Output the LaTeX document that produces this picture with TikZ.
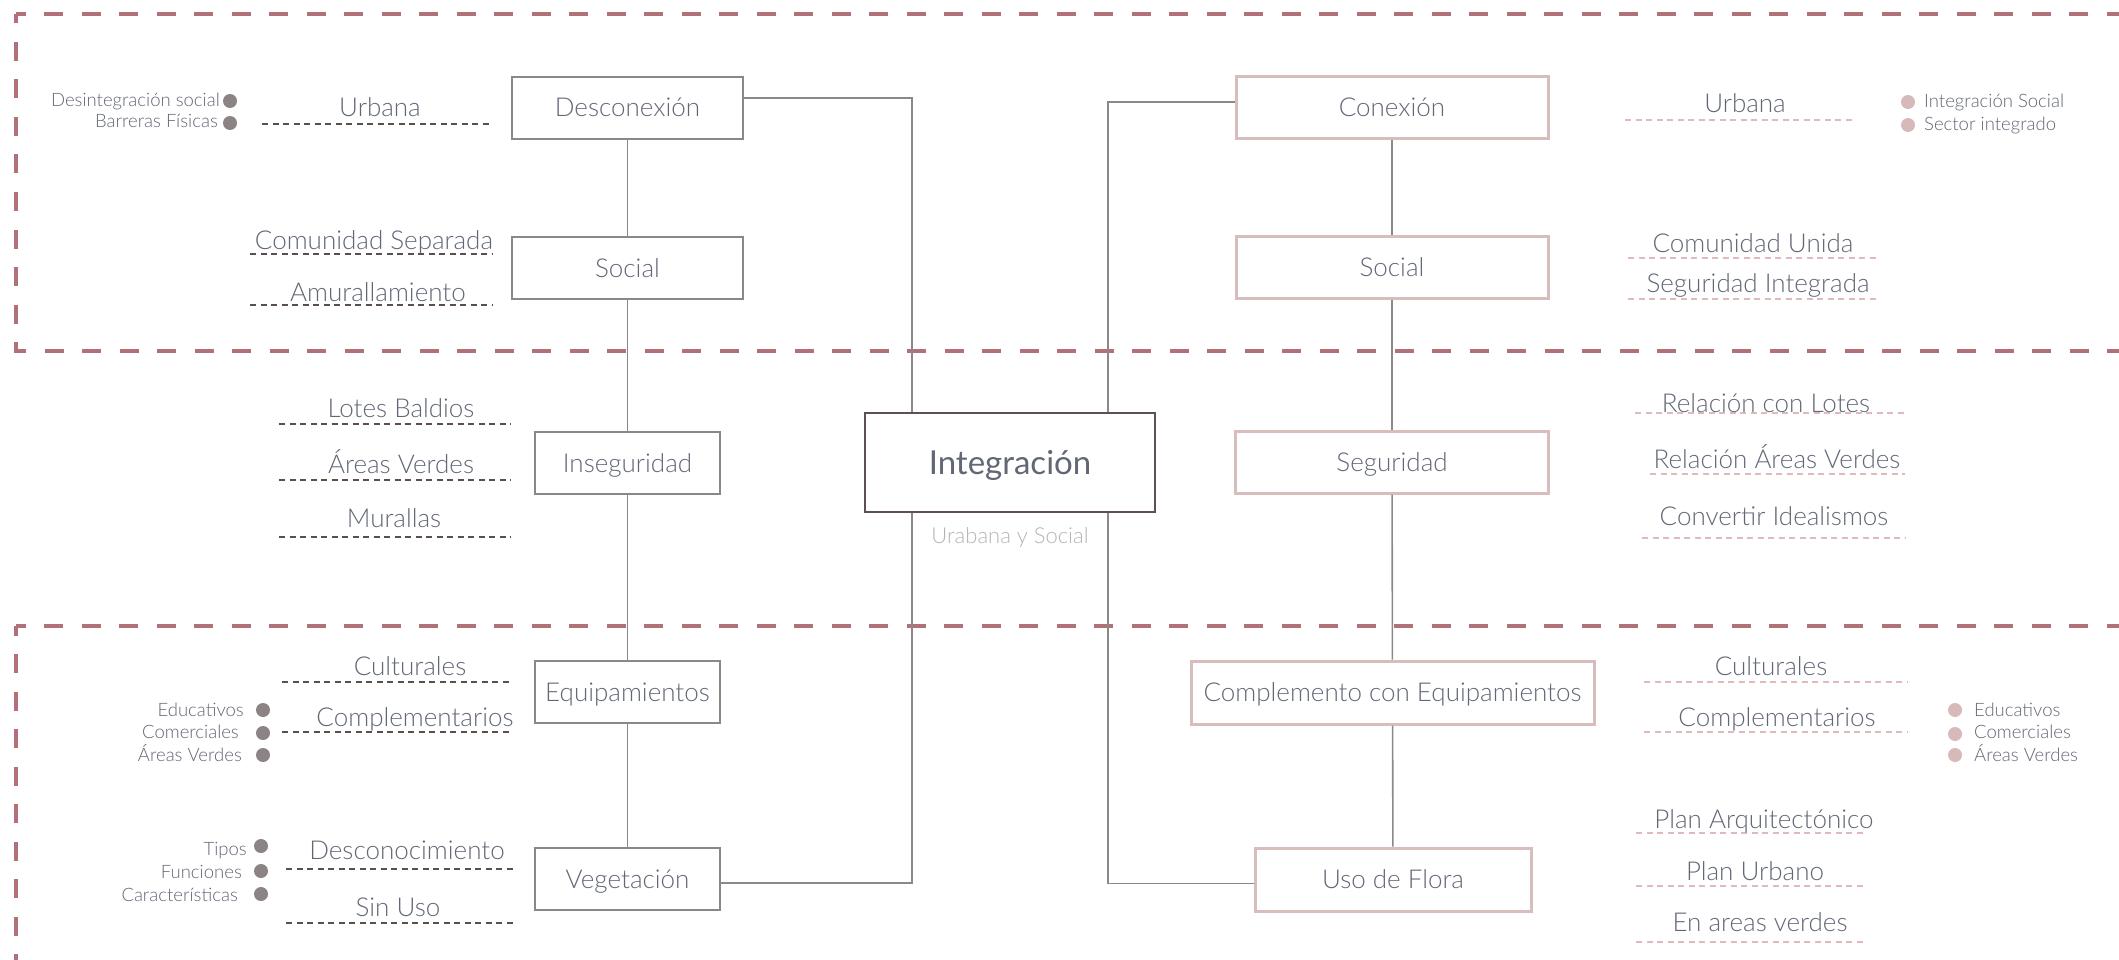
\documentclass[tikz,border=0pt]{standalone}
\usepackage{fontspec}
\setmainfont{Lato Light}
\newfontfamily\latoreg{Lato}
\definecolor{bordc}{RGB}{178,112,120}
\definecolor{txt}{RGB}{98,103,118}
\definecolor{lboxc}{RGB}{140,135,135}
\definecolor{rboxc}{RGB}{216,189,189}
\definecolor{conn}{RGB}{140,136,136}
\definecolor{ldash}{RGB}{90,78,78}
\definecolor{rdash}{RGB}{222,186,188}
\definecolor{ldot}{RGB}{140,132,132}
\definecolor{rdot}{RGB}{215,185,185}
\definecolor{intc}{RGB}{95,80,80}
\definecolor{subc}{RGB}{180,180,186}
\begin{document}
\begin{tikzpicture}[x=1pt,y=-1pt,
  bdash/.style={draw=bordc,line width=4.5pt,dash pattern=on 19pt off 18.5pt,dash phase=9.5pt},
  boxbase/.style={inner sep=0pt,fill=white,text=txt,font=\fontsize{26}{30}\selectfont,text height=18pt,text depth=0pt},
  lbox/.style={boxbase,draw=lboxc,line width=2.2pt},
  rbox/.style={boxbase,draw=rboxc,line width=3pt},
  lab/.style={anchor=base,inner sep=0pt,text=txt,font=\fontsize{26}{30}\selectfont},
  slabL/.style={anchor=base east,inner sep=0pt,text=txt,font=\fontsize{18.5}{22}\selectfont},
  slabR/.style={anchor=base west,inner sep=0pt,text=txt,font=\fontsize{18.5}{22}\selectfont},
  lline/.style={draw=ldash,line width=2.5pt,dash pattern=on 6pt off 4.5pt},
  rline/.style={draw=rdash,line width=2.5pt,dash pattern=on 6pt off 4.5pt},
  cline/.style={draw=conn,line width=1.6pt}
]
\useasboundingbox (0,0) rectangle (2119,960);
\fill[white] (0,0) rectangle (2119,960);

% band borders
\draw[bdash] (16,14) -- (2130,14);
\draw[bdash] (16,14) -- (16,351) -- (2130,351);
\draw[bdash] (16,626) -- (2130,626);
\draw[bdash] (16,626) -- (16,975);

% left column boxes
\node[lbox,minimum width=231pt,minimum height=62pt] (desc) at (627.5,108) {Desconexión};
\node[lbox,minimum width=231pt,minimum height=62pt] (socL) at (627.5,268) {Social};
\node[lbox,minimum width=185pt,minimum height=62pt] (inseg) at (627.5,463) {Inseguridad};
\node[lbox,minimum width=185pt,minimum height=62pt] (equip) at (627.5,692) {Equipamientos};
\node[lbox,minimum width=185pt,minimum height=62pt] (veg) at (627.5,879) {Vegetación};

% right column boxes
\node[rbox,minimum width=312pt,minimum height=62pt] (conex) at (1392,108) {Conexión};
\node[rbox,minimum width=312pt,minimum height=62pt] (socR) at (1392,267) {Social};
\node[rbox,minimum width=313pt,minimum height=62pt] (seg) at (1392,462) {Seguridad};
\node[rbox,minimum width=403pt,minimum height=63pt] (comp) at (1392.5,692.5) {Complemento con Equipamientos};
\node[rbox,minimum width=276pt,minimum height=63pt] (flora) at (1393,879.5) {Uso de Flora};

% center
\node[draw=intc,line width=2pt,fill=white,inner sep=0pt,minimum width=290pt,minimum height=99pt,
  text=txt,font=\latoreg\fontsize{33}{40}\selectfont,text height=24pt,text depth=0pt] (integ) at (1010,462.5) {Integración};
\node[anchor=base,inner sep=0pt,text=subc,font=\fontsize{22}{26}\selectfont] (sub) at (1010,543) {Urabana y Social};

% vertical connectors
\draw[cline] (desc) -- (socL);
\draw[cline] (socL) -- (inseg);
\draw[cline] (inseg) -- (equip);
\draw[cline] (equip) -- (veg);
\draw[cline] (conex) -- (socR);
\draw[cline] (socR) -- (seg);
\draw[cline] (seg) -- (comp);
\draw[cline] (comp) -- (flora);

% connectors to Integración
\draw[cline] ([yshift=10pt]desc.east) -| ([xshift=-98pt]integ.north);
\draw[cline] ([yshift=6pt]conex.west) -| ([xshift=98pt]integ.north);
\draw[cline] ([xshift=-98pt]integ.south) |- ([yshift=-4pt]veg.east);
\draw[cline] ([xshift=98pt]integ.south) |- ([yshift=-4pt]flora.west);

% left labels
\draw[lline] (262,124) -- (493,124);
\node[lab] (lUrb) at (380,117) {Urbana};
\draw[lline] (250,254) -- (493,254);
\node[lab] (lCom) at (374,249) {Comunidad Separada};
\draw[lline] (250,305) -- (493,305);
\node[lab] (lAmu) at (378,301) {Amurallamiento};
\draw[lline] (279,424) -- (511,424);
\node[lab] (lLot) at (401,417) {Lotes Baldios};
\draw[lline] (279,480) -- (511,480);
\node[lab] (lAre) at (401,473) {Áreas Verdes};
\draw[lline] (279,537) -- (511,537);
\node[lab] (lMur) at (394,527) {Murallas};
\draw[lline] (282,682) -- (513,682);
\node[lab] (lCul) at (410,675) {Culturales};
\draw[lline] (282,732) -- (513,732);
\node[lab] (lCpl) at (415,726) {Complementarios};
\draw[lline] (286,869) -- (517,869);
\node[lab] (lDes) at (407,859) {Desconocimiento};
\draw[lline] (286,923) -- (517,923);
\node[lab] (lSin) at (398,916) {Sin Uso};

% left small labels + dots
\node[slabL] (s1) at (220,107) {Desintegración social};
\fill[ldot] (230,101) circle (7pt);
\node[slabL] (s2) at (218,128) {Barreras Físicas};
\fill[ldot] (230,123) circle (7pt);
\node[slabL] (s3) at (244,716) {Educativos};
\fill[ldot] (263,710) circle (7pt);
\node[slabL] (s4) at (239,738) {Comerciales};
\fill[ldot] (263,733) circle (7pt);
\node[slabL] (s5) at (242,761) {Áreas Verdes};
\fill[ldot] (263,755) circle (7pt);
\node[slabL] (s6) at (247,855) {Tipos};
\fill[ldot] (261,846) circle (7pt);
\node[slabL] (s7) at (242,878) {Funciones};
\fill[ldot] (261,871) circle (7pt);
\node[slabL] (s8) at (238,901) {Características};
\fill[ldot] (261,894) circle (7pt);

% right labels
\draw[rline] (1625,120) -- (1856,120);
\node[lab] (rUrb) at (1745,113) {Urbana};
\draw[rline] (1628,258) -- (1880,258);
\node[lab] (rCom) at (1753,252) {Comunidad Unida};
\draw[rline] (1628,299) -- (1880,299);
\node[lab] (rSeg) at (1758,292) {Seguridad Integrada};
\draw[rline] (1635,413) -- (1905,413);
\node[lab] (rLot) at (1766,412) {Relación con Lotes};
\draw[rline] (1650,474) -- (1905,474);
\node[lab] (rAre) at (1777,468) {Relación Áreas Verdes};
\draw[rline] (1642,538) -- (1905,538);
\node[lab] (rCon) at (1774,525) {Convertir Idealismos};
\draw[rline] (1644,682) -- (1907,682);
\node[lab] (rCul) at (1771,675) {Culturales};
\draw[rline] (1644,732) -- (1907,732);
\node[lab] (rCpl) at (1777,726) {Complementarios};
\draw[rline] (1636,833) -- (1867,833);
\node[lab] (rPA) at (1764,828) {Plan Arquitectónico};
\draw[rline] (1636,886) -- (1867,886);
\node[lab] (rPU) at (1755,880) {Plan Urbano};
\draw[rline] (1636,942) -- (1867,942);
\node[lab] (rEn) at (1760,931) {En areas verdes};

% right small labels + dots
\fill[rdot] (1908,102) circle (7pt);
\node[slabR] (t1) at (1924,108) {Integración Social};
\fill[rdot] (1908,125) circle (7pt);
\node[slabR] (t2) at (1924,131) {Sector integrado};
\fill[rdot] (1955,710) circle (7pt);
\node[slabR] (t3) at (1974,716) {Educativos};
\fill[rdot] (1955,734) circle (7pt);
\node[slabR] (t4) at (1974,738) {Comerciales};
\fill[rdot] (1955,755) circle (7pt);
\node[slabR] (t5) at (1974,761) {Áreas Verdes};
\end{tikzpicture}
\end{document}
